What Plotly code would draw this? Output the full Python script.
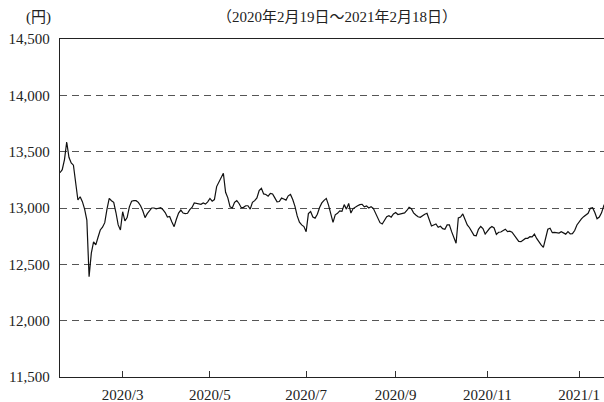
import plotly.graph_objects as go

# Trading-day index (0 = 2020/2/19) and closing price (yen)
price = [
    13313, 13340, 13430, 13586, 13450, 13400, 13380, 13230, 13071, 13100,
    13056, 12990, 12893, 12390, 12600, 12700, 12672, 12740, 12805, 12830,
    12870, 12990, 13086, 13065, 13050, 12960, 12850, 12805, 12967, 12885,
    12915, 13010, 13060, 13065, 13065, 13050, 13020, 12975, 12915, 12950,
    12980, 13000, 13000, 12992, 12998, 13003, 12985, 12960, 12920, 12925,
    12875, 12834, 12900, 12955, 12982, 12955, 12950, 12953, 12985, 13005,
    13045, 13042, 13042, 13033, 13045, 13035, 13055, 13085, 13060, 13075,
    13190, 13225, 13260, 13308, 13140, 13090, 13010, 13000, 13050, 13065,
    13040, 13003, 13006, 13020, 13020, 12990, 13050, 13065, 13090, 13155,
    13175, 13125, 13120, 13105, 13130, 13125, 13090, 13055, 13058, 13088,
    13080, 13070, 13108, 13120, 13075, 13015, 12930, 12875, 12850, 12835,
    12790, 12950, 12968, 12920, 12910, 12945, 13005, 13045, 13068, 13085,
    13025, 12960, 12873, 12940, 12953, 12975, 12970, 13030, 12990, 13040,
    12955, 12995, 13010, 13020, 13030, 13033, 13010, 13018, 13000, 13011,
    12997, 12955, 12908, 12870, 12858, 12893, 12923, 12932, 12919, 12947,
    12960, 12942, 12947, 12953, 12957, 12978, 13006, 12993, 12957, 12938,
    12922, 12917, 12932, 12945, 12953, 12900, 12840, 12849, 12858, 12829,
    12838, 12817, 12811, 12850, 12850, 12790, 12731, 12687, 12912, 12920,
    12947, 12890, 12850, 12825, 12790, 12757, 12754, 12811, 12836, 12817,
    12769, 12795, 12820, 12836, 12823, 12766, 12785, 12787, 12800, 12812,
    12790, 12795, 12786, 12760, 12725, 12703, 12701, 12712, 12730, 12731,
    12745, 12743, 12769, 12730, 12695, 12672, 12651, 12735, 12811, 12820,
    12781, 12784, 12778, 12777, 12790, 12775, 12768, 12790, 12770, 12772,
    12800, 12849, 12878, 12903, 12923, 12938, 12953, 12997, 13003, 12960,
    12905, 12920, 12957, 13020, 13060,
]
trading_day = list(range(len(price)))

# Month boundaries (trading-day index) and their labels
tick_days = [28, 67, 110, 150, 191, 232]
tick_labels = ["2020/3", "2020/5", "2020/7", "2020/9", "2020/11", "2021/1"]

y_ticks = [11500, 12000, 12500, 13000, 13500, 14000, 14500]

FONT = "Liberation Serif, Noto Sans CJK JP, serif"

fig = go.Figure()
fig.add_trace(go.Scatter(
    x=trading_day, y=price, mode="lines",
    line=dict(color="#111111", width=1.2),
    hoverinfo="skip", showlegend=False,
))

fig.update_layout(
    width=604, height=402,
    margin=dict(l=60, r=0, t=39, b=25),
    paper_bgcolor="white", plot_bgcolor="white",
    font=dict(family=FONT, size=15, color="#222222"),
    showlegend=False,
)

fig.update_xaxes(
    range=[0, 243.1],
    tickmode="array", tickvals=tick_days, ticktext=tick_labels,
    ticks="inside", ticklen=6, tickwidth=1, tickcolor="#333333",
    showline=True, linecolor="#222222", linewidth=1.2, mirror=True,
    showgrid=False, zeroline=False,
    tickfont=dict(family=FONT, size=15, color="#222222"),
    ticklabelstandoff=4,
    automargin=False,
)

fig.update_yaxes(
    range=[11500, 14500],
    tickmode="array", tickvals=y_ticks, tickformat=",d",
    ticks="", showline=True, linecolor="#222222", linewidth=1.2, mirror=False,
    showgrid=True, gridcolor="#555555", gridwidth=1, griddash="7px,5px",
    zeroline=False,
    tickfont=dict(family=FONT, size=15, color="#222222"),
    ticklabelstandoff=6,
    automargin=False,
)

fig.add_annotation(
    text="(円)", xref="paper", yref="paper", x=-0.040, y=1.065,
    xanchor="center", yanchor="middle", showarrow=False,
    font=dict(family=FONT, size=15, color="#222222"),
)
fig.add_annotation(
    text="（2020年2月19日～2021年2月18日）", xref="paper", yref="paper",
    x=0.509, y=1.065, xanchor="center", yanchor="middle", showarrow=False,
    font=dict(family=FONT, size=15, color="#222222"),
)

fig.write_html(
    "out.html",
    config={"displayModeBar": False, "staticPlot": True},
    post_script="document.body.style.margin='0';document.body.style.overflow='hidden';",
)
